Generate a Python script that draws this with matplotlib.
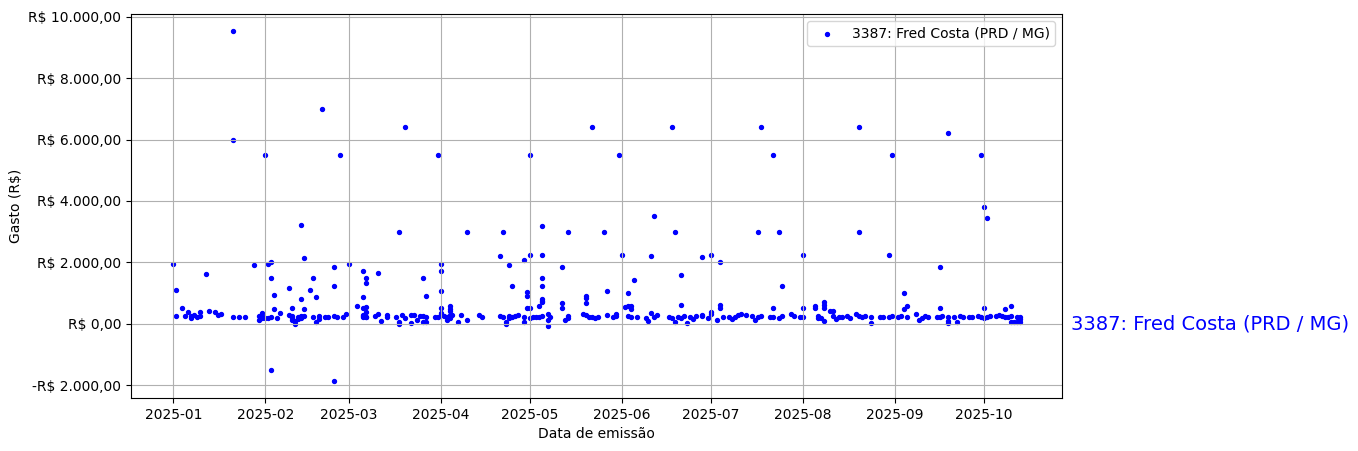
import matplotlib

matplotlib.use("Agg")

from matplotlib import pyplot
from matplotlib import transforms
from matplotlib.ticker import FuncFormatter
import numpy as np


LABEL = "3387: Fred Costa (PRD / MG)"

# (day of month, value in R$) for each month of 2025
jan = [(1, 1950), (2, 1090), (2, 250), (4, 510), (5, 250), (6, 380), (7, 185), (7, 240),
       (8, 290), (9, 215), (10, 380), (10, 250), (12, 1610), (13, 410), (15, 380), (16, 290),
       (17, 310), (21, 9520), (21, 6000), (21, 215), (23, 215), (25, 215), (28, 1900),
       (30, 120), (30, 250), (31, 195), (31, 250), (31, 355)]
feb = [(1, 5500), (1, 175), (2, 175), (2, 1950), (3, 2010), (3, 215), (3, 1480), (3, -1500),
       (4, 930), (4, 475), (5, 185), (6, 335), (9, 1160), (10, 510), (9, 280), (10, 185),
       (10, 250), (10, 120), (11, 85), (11, 0), (12, 215), (12, 150), (13, 250), (13, 185),
       (13, 215), (14, 250), (13, 3200), (13, 800), (14, 2130), (14, 475), (16, 1090),
       (17, 1480), (17, 215), (18, 55), (18, 865), (19, 250), (19, 160), (20, 7000), (21, 215),
       (22, 215), (24, 250), (24, 1840), (24, 1220), (24, -1850), (25, 215), (26, 5500),
       (27, 215), (28, 310)]
mar = [(1, 1935), (4, 575), (6, 865), (6, 510), (6, 250), (6, 215), (6, 280), (6, 1710),
       (7, 215), (7, 540), (7, 380), (7, 215), (7, 1480), (7, 1320), (10, 250), (11, 1640),
       (11, 310), (12, 85), (14, 280), (14, 215), (17, 215), (18, 3000), (18, 55), (18, 0),
       (19, 280), (20, 6400), (20, 185), (22, 280), (22, 20), (23, 280), (24, 120), (25, 250),
       (26, 250), (26, 1480), (26, 55), (27, 215), (27, 900), (27, 55), (30, 215), (31, 5500),
       (31, 215)]
apr = [(1, 280), (1, 1935), (1, 1710), (1, 1060), (1, 510), (1, 345), (2, 250), (3, 215),
       (3, 120), (4, 575), (4, 475), (4, 185), (4, 280), (4, 410), (5, 280), (7, 55), (8, 280),
       (10, 3000), (10, 120), (14, 280), (15, 215), (21, 250), (21, 2195), (22, 3000),
       (22, 215), (23, 55), (23, 0), (24, 250), (24, 1900), (24, 185), (25, 1220), (25, 215),
       (26, 250), (27, 280), (29, 55), (29, 2065), (29, 215), (30, 1030), (30, 900), (30, 510)]
may = [(1, 2230), (1, 5500), (1, 510), (1, 185), (2, 215), (3, 215), (4, 575), (4, 215),
       (5, 2230), (5, 1480), (5, 1220), (5, 800), (5, 735), (5, 700), (5, 3170), (5, 250),
       (7, 120), (7, -80), (7, 310), (8, 215), (12, 1840), (12, 670), (12, 510), (13, 120),
       (14, 3000), (14, 250), (14, 185), (19, 310), (20, 900), (20, 830), (20, 670), (20, 280),
       (21, 215), (22, 6400), (22, 215), (23, 185), (24, 215), (26, 3000), (27, 1060),
       (27, 280), (29, 215), (30, 250), (30, 310), (31, 5500)]
jun = [(1, 2230), (2, 540), (3, 575), (3, 1015), (3, 250), (4, 575), (4, 215), (4, 475),
       (5, 1415), (6, 215), (9, 185), (10, 85), (11, 2195), (11, 345), (12, 215), (12, 3525),
       (13, 280), (17, 215), (18, 6400), (18, 185), (19, 3000), (19, 55), (20, 215),
       (21, 1580), (21, 605), (21, 185), (22, 250), (23, 20), (24, 215), (25, 150), (26, 250),
       (28, 2160), (28, 280), (28, 260), (30, 185)]
jul = [(1, 2230), (1, 380), (1, 310), (3, 120), (4, 2000), (4, 605), (4, 510), (5, 215),
       (7, 215), (8, 150), (9, 215), (10, 280), (11, 310), (13, 280), (15, 250), (16, 120),
       (17, 3000), (17, 215), (18, 6400), (18, 250), (21, 215), (22, 5500), (22, 510),
       (22, 215), (24, 185), (24, 3000), (25, 1220), (25, 250), (28, 310), (29, 250), (31, 215)]
aug = [(1, 2230), (1, 510), (1, 215), (5, 575), (5, 510), (6, 185), (6, 250), (7, 185),
       (8, 700), (8, 605), (8, 510), (8, 85), (10, 410), (11, 410), (11, 250), (12, 150),
       (13, 215), (14, 215), (16, 250), (17, 185), (19, 310), (20, 250), (20, 6400),
       (20, 3000), (21, 215), (22, 250), (24, 215), (24, 20), (27, 215), (28, 215), (30, 2230),
       (30, 215), (31, 5500), (31, 250)]
sep = [(2, 215), (3, 250), (4, 995), (4, 475), (5, 215), (5, 575), (8, 310), (9, 120),
       (10, 185), (11, 250), (12, 215), (15, 215), (16, 1840), (16, 510), (16, 215), (17, 250),
       (19, 6215), (19, 215), (19, 85), (19, 20), (21, 215), (22, 55), (23, 250), (24, 215),
       (26, 215), (27, 215), (29, 250), (30, 5500), (30, 215)]
oct_ = [(1, 3815), (1, 510), (1, 185), (2, 3460), (2, 215), (3, 250), (5, 250), (6, 280),
        (7, 250), (8, 475), (8, 215), (9, 215), (10, 55), (10, 575), (10, 250), (11, 55),
        (12, 215), (12, 55), (13, 55), (13, 215), (13, 150)]

months = [jan, feb, mar, apr, may, jun, jul, aug, sep, oct_]


def brl(v, _pos=None):
    s = f"{abs(v):,.2f}".replace(",", "X").replace(".", ",").replace("X", ".")
    return ("-" if v < 0 else "") + "R$ " + s


dates = []
values = []
for m, pts in enumerate(months, start=1):
    for d, v in pts:
        dates.append(np.datetime64(f"2025-{m:02d}-{d:02d}"))
        values.append(v)
dates = np.array(dates)
values = np.array(values, dtype=float)

fig = pyplot.figure(figsize=(13.58, 4.51), dpi=100)
ax = fig.add_axes([131 / 1358, 1 - 398 / 451, (1062 - 131) / 1358, (398 - 14) / 451])

ax.scatter(dates, values, s=8, c="blue", label=LABEL)

ax.yaxis.set_major_formatter(FuncFormatter(brl))
ax.set_xlabel("Data de emissão")
ax.set_ylabel("Gasto (R$)")
ax.grid(True)
ax.legend(loc="upper right")

trans = transforms.blended_transform_factory(ax.transAxes, ax.transData)
ax.text(1.01, 0, LABEL, transform=trans, color="blue", fontsize=14,
        va="center", ha="left", clip_on=False)

fig.savefig("out.png")
pyplot.close(fig)
